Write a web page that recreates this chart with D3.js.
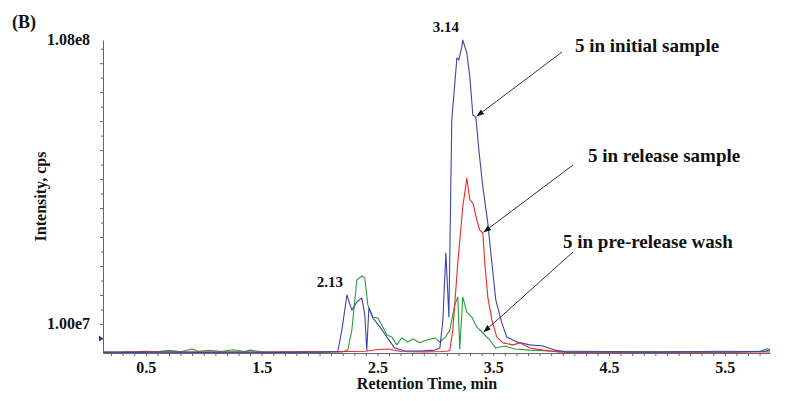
<!DOCTYPE html>
<html>
<head>
<meta charset="utf-8">
<script src="https://cdn.jsdelivr.net/npm/d3@7"></script>
<style>
  body { margin: 0; background: #fff; }
  text { font-family: "Liberation Serif", "Times New Roman", serif; font-weight: bold; fill: #111; }
</style>
</head>
<body>
<svg id="chart" width="800" height="401"></svg>
<script>
// retention time (min) and intensity (1e6 cps)
var initialTime = [0.13, 0.4, 0.7, 1.0, 1.3, 1.6, 1.9, 2.05, 2.158, 2.193, 2.236, 2.279, 2.322, 2.365, 2.391, 2.408, 2.426,
    2.46, 2.521, 2.581, 2.65, 2.737, 2.866, 2.996, 3.039, 3.065, 3.091, 3.117, 3.142, 3.186, 3.203, 3.229, 3.237,
    3.272, 3.298, 3.324, 3.35, 3.376, 3.41, 3.453, 3.488, 3.522, 3.574, 3.617, 3.704, 3.816, 3.928, 4.032, 4.136,
    4.4, 4.8, 5.2, 5.6, 5.85, 5.89];
var initialValue = [0.3, 0.2, 0.3, 0.2, 0.3, 0.2, 0.3, 0.4, 0.6, 7.9, 20.0, 14.8, 17.6, 19.0, 13.1, 1.0, 15.5,
    12.1, 9.0, 5.5, 1.7, 0.7, 0.7, 1.0, 1.7, 11.4, 34.5, 12.4, 80.4, 101.8, 101.1, 105.6, 108.0,
    103.5, 95.2, 82.1, 81.4, 70.0, 57.3, 44.9, 31.1, 18.3, 10.4, 5.5, 3.8, 2.8, 2.4, 1.0, 0.3,
    0.4, 0.3, 0.4, 0.4, 0.6, 1.2];

var releaseTime = [0.13, 0.5, 1.0, 1.5, 2.0, 2.4, 2.5, 2.6, 2.7, 2.9, 3.05, 3.108, 3.125, 3.151, 3.194, 3.237, 3.272,
    3.298, 3.324, 3.358, 3.384, 3.41, 3.427, 3.453, 3.488, 3.531, 3.583, 3.669, 3.73, 3.816, 3.928, 4.075,
    4.5, 5.0, 5.5, 5.89];
var releaseValue = [0.2, 0.4, 0.3, 0.3, 0.4, 0.6, 1.2, 1.4, 0.5, 0.4, 0.5, 0.7, 1.0, 7.9, 31.1, 50.4, 60.4,
    52.8, 51.8, 45.9, 42.4, 41.4, 31.1, 19.3, 11.4, 5.5, 3.5, 2.8, 3.5, 1.7, 1.0, 0.3,
    0.3, 0.3, 0.3, 0.4];

var washTime = [0.13, 0.3, 0.5, 0.6, 0.7, 0.8, 0.9, 0.95, 1.05, 1.15, 1.25, 1.35, 1.4, 1.5, 1.7, 1.9, 2.1, 2.2,
    2.244, 2.279, 2.322, 2.365, 2.391, 2.417, 2.46, 2.503, 2.547, 2.581, 2.624, 2.667, 2.711, 2.762, 2.806,
    2.866, 2.927, 2.996, 3.039, 3.082, 3.125, 3.168, 3.194, 3.211, 3.237, 3.272, 3.315, 3.358, 3.41, 3.47,
    3.522, 3.6, 3.687, 3.816, 3.989, 4.5, 5.0, 5.5, 5.8, 5.87, 5.89];
var washValue = [0.2, 0.3, 0.6, 0.4, 0.9, 0.4, 1.4, 0.6, 0.9, 0.5, 1.1, 0.5, 1.0, 0.4, 0.3, 0.4, 0.3, 0.4,
    1.0, 7.9, 25.2, 26.6, 25.9, 16.6, 12.4, 12.1, 9.0, 6.2, 5.5, 2.8, 5.2, 3.8, 4.8,
    3.5, 4.5, 5.2, 3.8, 5.2, 7.9, 16.6, 19.3, 1.4, 19.3, 14.1, 12.4, 9.0, 6.9, 4.5,
    1.7, 2.4, 1.4, 1.0, 0.7, 0.5, 0.4, 0.6, 0.5, 1.5, 0.8];

var xLabels = [0.5, 1.5, 2.5, 3.5, 4.5, 5.5];
var yLabels = [10e6, 108e6];
var yLabelText = ["1.00e7", "1.08e8"];
var peakLabels = [{ t: 2.236, v: 20.0, text: "2.13" }, { t: 3.237, v: 108.0, text: "3.14" }];

var svg = d3.select("#chart");
var plotLeft = 103, plotRight = 770, plotTop = 40, plotBottom = 353;

var x = d3.scaleLinear().domain([0.13, 5.89]).range([plotLeft, plotRight]);
var y = d3.scaleLinear().domain([0, 108e6]).range([plotBottom, plotTop]);

var minorX = d3.range(2, 59).map(function(i) { return i / 10; });
var xAxis = svg.append("g")
    .attr("transform", "translate(0," + plotBottom + ")")
    .call(d3.axisBottom(x).tickValues(minorX).tickSize(3).tickSizeOuter(0)
        .tickFormat(function(d) { return xLabels.some(function(l) { return Math.abs(l - d) < 1e-6; }) ? d.toFixed(1) : ""; }));
xAxis.select(".domain").attr("stroke", "#666");
xAxis.selectAll(".tick line").attr("stroke", "#666");
xAxis.selectAll(".tick text").attr("dy", "0.9em").style("font-size", "16px").attr("fill", "#111");

var minorY = d3.range(1, 22).map(function(i) { return i * 5e6; });
var yAxis = svg.append("g")
    .attr("transform", "translate(" + plotLeft + ",0)")
    .call(d3.axisLeft(y).tickValues(minorY).tickSizeOuter(0).tickFormat(""));
yAxis.selectAll(".tick line").attr("x2", function(d, i) { return i % 2 ? -3 : -2; }).attr("stroke", "#666");
yAxis.select(".domain").attr("stroke", "#666");

svg.selectAll(".ylab").data(yLabels).enter().append("text")
    .attr("class", "ylab")
    .attr("x", plotLeft - 13)
    .attr("y", function(d) { return y(d) + 5; })
    .attr("text-anchor", "end")
    .style("font-size", "16px")
    .text(function(d, i) { return yLabelText[i]; });

// small marker at the left edge of the axis
svg.append("path")
    .attr("d", "M" + (plotLeft - 4) + "," + (y(5e6) - 3) + "L" + plotLeft + "," + y(5e6) + "L" + (plotLeft - 4) + "," + (y(5e6) + 3) + "Z")
    .attr("fill", "#223388");

var line = d3.line()
    .x(function(d) { return x(d[0]); })
    .y(function(d) { return y(d[1] * 1e6); });

var series = [
    { t: washTime, v: washValue, color: "#2a9a3a" },
    { t: releaseTime, v: releaseValue, color: "#ee2a2a" },
    { t: initialTime, v: initialValue, color: "#3f44a8" }
];
svg.selectAll(".trace").data(series).enter().append("path")
    .attr("class", "trace")
    .attr("fill", "none")
    .attr("stroke", function(d) { return d.color; })
    .attr("stroke-width", 1.1)
    .attr("stroke-linejoin", "round")
    .attr("d", function(d) { return line(d.t.map(function(t, i) { return [t, d.v[i]]; })); });

svg.selectAll(".peak").data(peakLabels).enter().append("text")
    .attr("class", "peak")
    .attr("x", function(d) { return x(d.t) - 17; })
    .attr("y", function(d) { return y(d.v * 1e6) - 8; })
    .attr("text-anchor", "middle")
    .style("font-size", "15px")
    .text(function(d) { return d.text; });

// callouts
var defs = svg.append("defs");
defs.append("marker").attr("id", "head")
    .attr("viewBox", "0 0 10 10").attr("refX", 9).attr("refY", 5)
    .attr("markerWidth", 8).attr("markerHeight", 8).attr("orient", "auto")
    .attr("markerUnits", "userSpaceOnUse")
    .append("path").attr("d", "M0,1.5L10,5L0,8.5Z").attr("fill", "#111");

var callouts = [
    { text: "5 in initial sample", tx: 575, ty: 52, x1: 562, y1: 52, t: 3.35, v: 81.4 },
    { text: "5 in release sample", tx: 588, ty: 162, x1: 573, y1: 165, t: 3.41, v: 41.4 },
    { text: "5 in pre-release wash", tx: 563, ty: 248, x1: 573, y1: 252, t: 3.41, v: 6.9 }
];
svg.selectAll(".call").data(callouts).enter().append("line")
    .attr("x1", function(d) { return d.x1; }).attr("y1", function(d) { return d.y1; })
    .attr("x2", function(d) { return x(d.t) + 1; }).attr("y2", function(d) { return y(d.v * 1e6) - 1; })
    .attr("stroke", "#333").attr("stroke-width", 1)
    .attr("marker-end", "url(#head)");
svg.selectAll(".calltext").data(callouts).enter().append("text")
    .attr("x", function(d) { return d.tx; }).attr("y", function(d) { return d.ty; })
    .style("font-size", "19px")
    .text(function(d) { return d.text; });

svg.append("text").attr("x", 12).attr("y", 28).style("font-size", "18px").text("(B)");
svg.append("text").attr("x", 427).attr("y", 389).attr("text-anchor", "middle")
    .style("font-size", "16px").text("Retention Time, min");
svg.append("text").attr("transform", "translate(46," + (plotTop + plotBottom) / 2 + ") rotate(-90)")
    .attr("text-anchor", "middle").style("font-size", "16px").text("Intensity, cps");
</script>
</body>
</html>
